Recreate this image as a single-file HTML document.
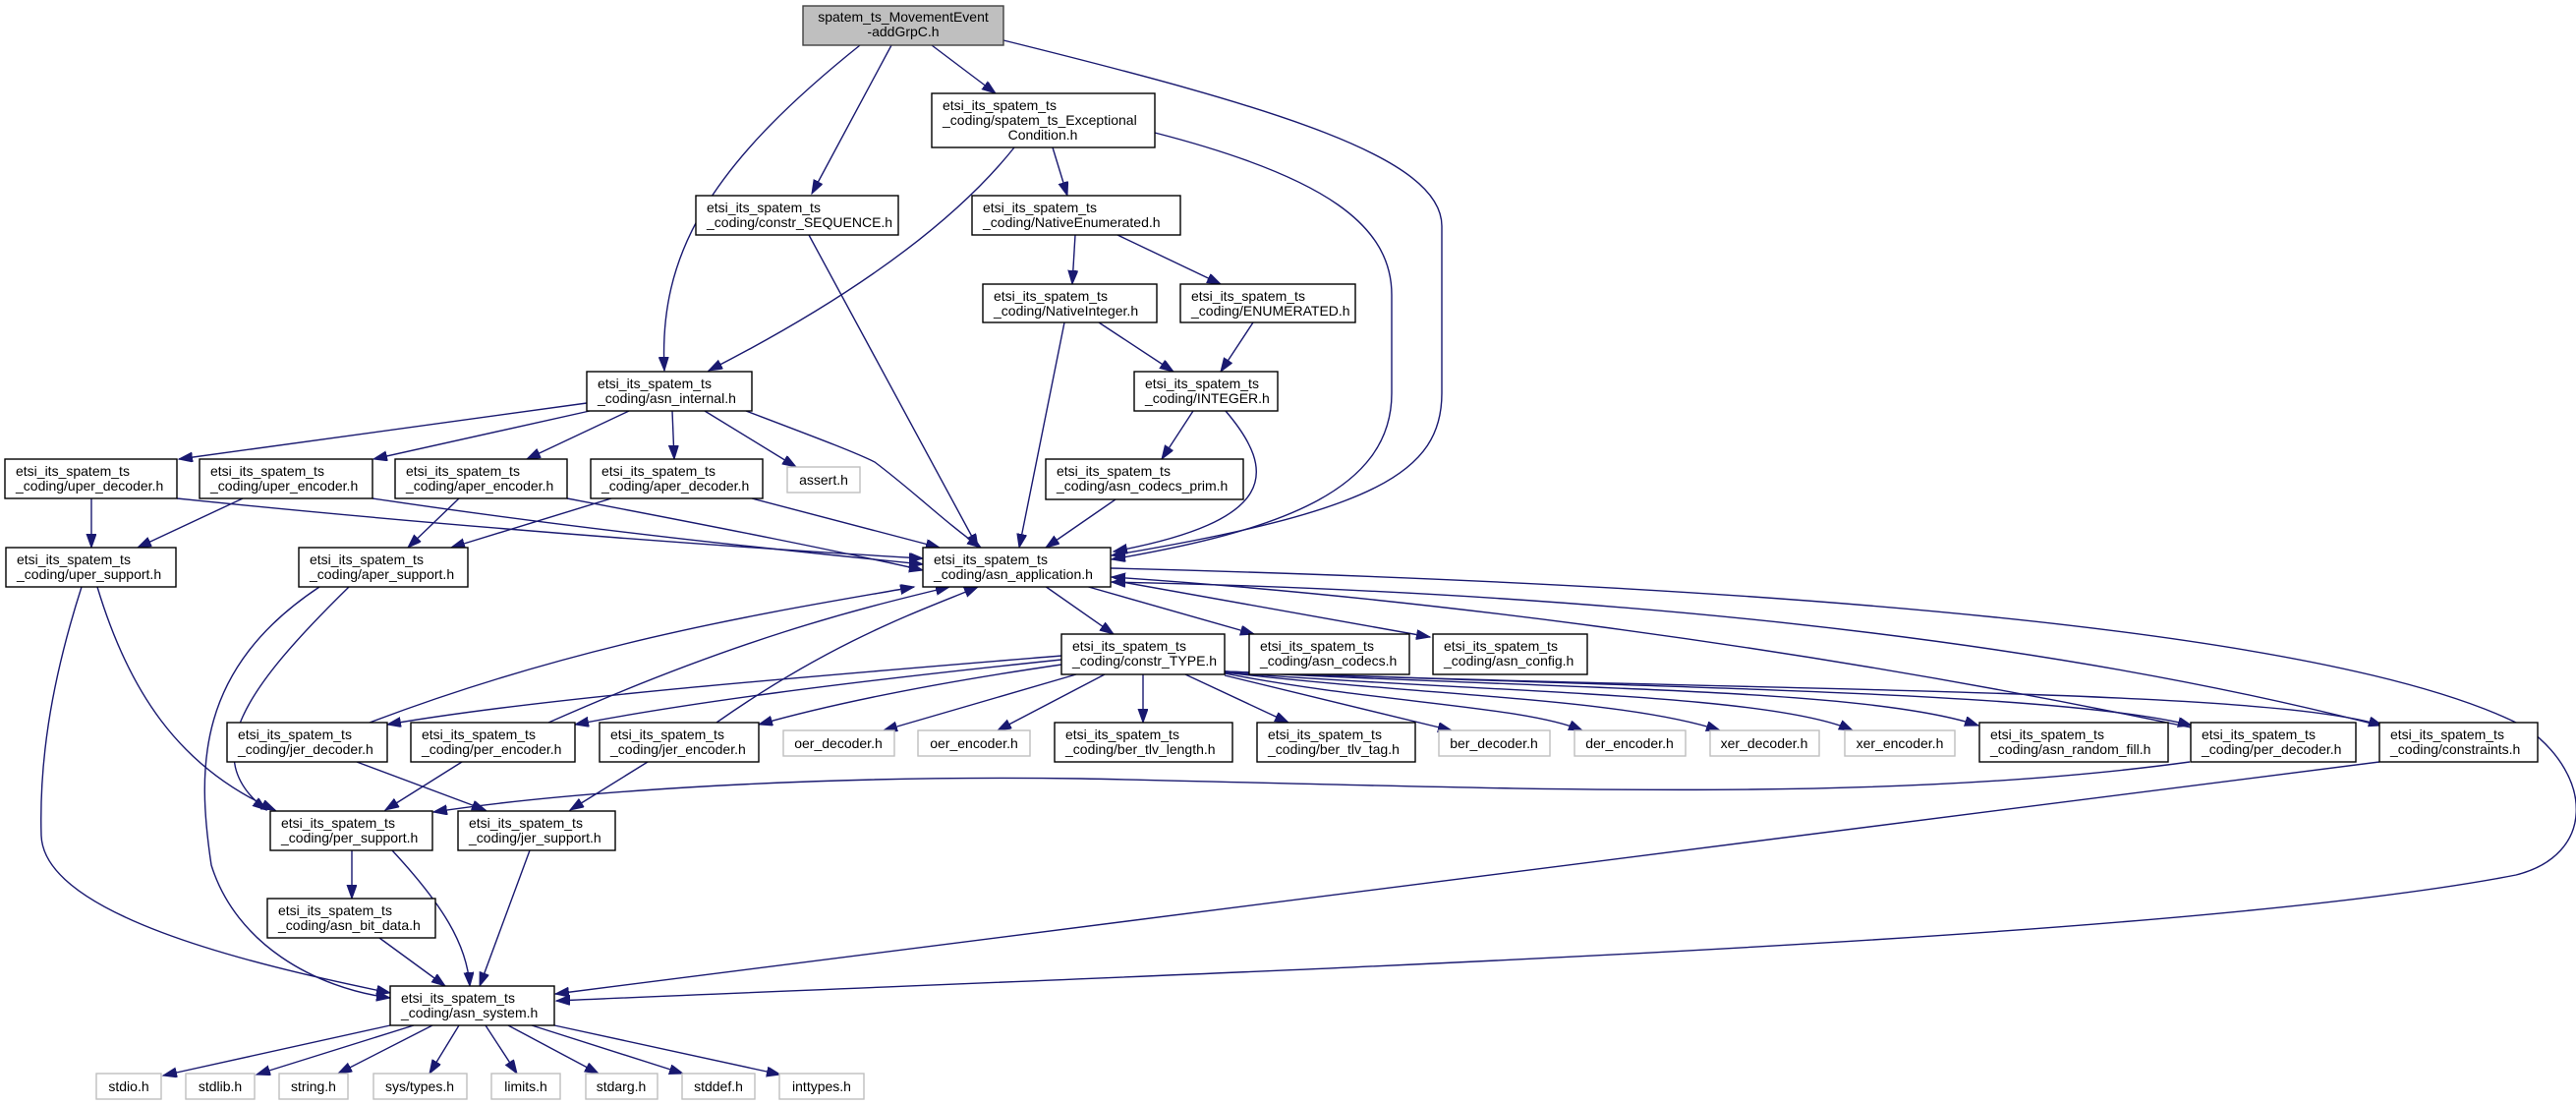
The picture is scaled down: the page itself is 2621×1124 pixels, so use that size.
<!DOCTYPE html>
<html><head><meta charset="utf-8"><style>
html,body{margin:0;padding:0;background:#fff;}
svg{display:block}
text{font-family:"Liberation Sans",sans-serif;font-size:14px;fill:#000}
.n{fill:#fff;stroke:#000;stroke-width:1.4}
.g{fill:#fff;stroke:#bfbfbf;stroke-width:1.4}
.e{fill:none;stroke:#191970;stroke-width:1.4;marker-end:url(#a)}
</style></head><body>
<svg width="2621" height="1124" viewBox="0 0 2621 1124" xmlns="http://www.w3.org/2000/svg">
<defs><marker id="a" markerUnits="userSpaceOnUse" markerWidth="16" markerHeight="12" refX="14" refY="5" orient="auto"><path d="M0,0 L14,5 L0,10 z" fill="#191970" stroke="#191970"/></marker></defs>
<!-- edges -->
<path class="e" d="M875,46 C720,170 670,260 676,377"/>
<path class="e" d="M907,46 L826,197"/>
<path class="e" d="M948,46 L1013,95"/>
<path class="e" d="M1021,41 C1300,110 1467,160 1467,230 L1467,400 C1467,480 1400,520 1131,565"/>
<path class="e" d="M1032,150 Q940,265 721,377"/>
<path class="e" d="M1071,150 L1086,199"/>
<path class="e" d="M1175,135 C1350,180 1416,230 1416,300 L1416,400 C1416,500 1300,540 1131,569"/>
<path class="e" d="M823,239 L995,557"/>
<path class="e" d="M1094,239 L1091,289"/>
<path class="e" d="M1137,239 L1242,289"/>
<path class="e" d="M1083,328 L1037,557"/>
<path class="e" d="M1118,328 L1194,378"/>
<path class="e" d="M1275,328 L1242,378"/>
<path class="e" d="M1214,418 L1182,467"/>
<path class="e" d="M1247,418 C1300,480 1300,530 1133,561"/>
<path class="e" d="M1135,508 L1064,557"/>
<path class="e" d="M597,410 L182,467"/>
<path class="e" d="M600,418 L380,467"/>
<path class="e" d="M640,418 L536,467"/>
<path class="e" d="M684,418 L686,467"/>
<path class="e" d="M717,418 L810,475"/>
<path class="e" d="M759,418 C830,445 870,460 890,470 C930,500 960,530 998,557"/>
<path class="e" d="M93,507 L93,557"/>
<path class="e" d="M180,507 C500,540 800,560 939,568"/>
<path class="e" d="M247,507 L140,557"/>
<path class="e" d="M379,507 C600,540 800,560 939,574"/>
<path class="e" d="M467,507 L415,557"/>
<path class="e" d="M577,507 C750,540 850,560 939,580"/>
<path class="e" d="M622,507 L459,557"/>
<path class="e" d="M765,507 L956,557"/>
<path class="e" d="M83,597 C50,700 40,780 42,850 C45,930 250,980 397,1010"/>
<path class="e" d="M99,597 C130,700 180,780 280,824"/>
<path class="e" d="M325,597 C200,680 200,780 215,880 C240,960 320,1005 397,1015"/>
<path class="e" d="M355,597 C250,700 200,770 271,824"/>
<path class="e" d="M376,735 C600,650 800,620 930,597"/>
<path class="e" d="M363,775 L494,824"/>
<path class="e" d="M558,735 C750,650 870,620 966,597"/>
<path class="e" d="M470,775 L392,824"/>
<path class="e" d="M729,735 C850,650 940,620 995,597"/>
<path class="e" d="M659,775 L580,824"/>
<path class="e" d="M358,865 L358,914"/>
<path class="e" d="M399,865 C450,920 475,960 478,1003"/>
<path class="e" d="M539,865 L488,1003"/>
<path class="e" d="M386,954 L453,1003"/>
<path class="e" d="M397,1043 L166,1094"/>
<path class="e" d="M421,1043 L261,1093"/>
<path class="e" d="M440,1043 L344,1092"/>
<path class="e" d="M467,1043 L437,1092"/>
<path class="e" d="M494,1043 L526,1092"/>
<path class="e" d="M517,1043 L609,1092"/>
<path class="e" d="M541,1043 L695,1092"/>
<path class="e" d="M564,1043 L794,1093"/>
<path class="e" d="M1063,596 L1133,645"/>
<path class="e" d="M1104,596 L1276,645"/>
<path class="e" d="M1136,591 L1455,648"/>
<path class="e" d="M1163,686 L1163,735"/>
<path class="e" d="M1206,686 L1311,735"/>
<path class="e" d="M1246,687 L1477,743"/>
<path class="e" d="M1246,685 C1400,715 1550,718 1610,743"/>
<path class="e" d="M1246,684 C1450,708 1650,710 1750,743"/>
<path class="e" d="M1246,684 C1500,704 1800,705 1885,743"/>
<path class="e" d="M1246,683 C1600,702 1900,700 2013,738"/>
<path class="e" d="M1246,683 C1700,700 2100,704 2230,738"/>
<path class="e" d="M1246,683 C1800,704 2300,700 2424,738"/>
<path class="e" d="M1080,667 C800,690 550,710 394,737"/>
<path class="e" d="M1080,671 C850,695 700,715 585,737"/>
<path class="e" d="M1080,676 C950,695 850,715 772,737"/>
<path class="e" d="M1095,686 L899,743"/>
<path class="e" d="M1124,686 L1015,743"/>
<path class="e" d="M2229,740 C1800,650 1400,605 1131,587"/>
<path class="e" d="M2421,738 C2000,630 1500,600 1131,592"/>
<path class="e" d="M2228,775 C1900,820 1500,800 1100,792 C800,788 560,808 441,826"/>
<path class="e" d="M2421,775 L565,1011"/>
<path class="e" d="M1130,578 C1800,595 2380,640 2570,740 C2640,790 2640,870 2560,890 C2200,960 1200,990 566,1018"/>
<!-- nodes -->
<rect x="817" y="6" width="204" height="40" fill="#bfbfbf" stroke="#404040" stroke-width="1.4"/>
<text x="919" y="22" text-anchor="middle">spatem_ts_MovementEvent</text><text x="919" y="37" text-anchor="middle">-addGrpC.h</text>
<rect class="n" x="948" y="95" width="227" height="55"/>
<text x="959" y="112">etsi_its_spatem_ts</text><text x="959" y="127">_coding/spatem_ts_Exceptional</text><text x="1061" y="142" text-anchor="middle">Condition.h</text>
<g id="nodes">
<rect class="n" x="708" y="199" width="206" height="40"/><text x="719" y="216">etsi_its_spatem_ts</text><text x="719" y="231">_coding/constr_SEQUENCE.h</text>
<rect class="n" x="989" y="199" width="212" height="40"/><text x="1000" y="216">etsi_its_spatem_ts</text><text x="1000" y="231">_coding/NativeEnumerated.h</text>
<rect class="n" x="1000" y="289" width="177" height="39"/><text x="1011" y="306">etsi_its_spatem_ts</text><text x="1011" y="321">_coding/NativeInteger.h</text>
<rect class="n" x="1201" y="289" width="178" height="39"/><text x="1212" y="306">etsi_its_spatem_ts</text><text x="1212" y="321">_coding/ENUMERATED.h</text>
<rect class="n" x="597" y="378" width="168" height="40"/><text x="608" y="395">etsi_its_spatem_ts</text><text x="608" y="410">_coding/asn_internal.h</text>
<rect class="n" x="1154" y="378" width="146" height="40"/><text x="1165" y="395">etsi_its_spatem_ts</text><text x="1165" y="410">_coding/INTEGER.h</text>
<rect class="n" x="5" y="467" width="175" height="40"/><text x="16" y="484">etsi_its_spatem_ts</text><text x="16" y="499">_coding/uper_decoder.h</text>
<rect class="n" x="203" y="467" width="176" height="40"/><text x="214" y="484">etsi_its_spatem_ts</text><text x="214" y="499">_coding/uper_encoder.h</text>
<rect class="n" x="402" y="467" width="175" height="40"/><text x="413" y="484">etsi_its_spatem_ts</text><text x="413" y="499">_coding/aper_encoder.h</text>
<rect class="n" x="601" y="467" width="175" height="40"/><text x="612" y="484">etsi_its_spatem_ts</text><text x="612" y="499">_coding/aper_decoder.h</text>
<rect class="n" x="1064" y="467" width="201" height="41"/><text x="1075" y="484">etsi_its_spatem_ts</text><text x="1075" y="499">_coding/asn_codecs_prim.h</text>
<rect class="n" x="6" y="557" width="173" height="40"/><text x="17" y="574">etsi_its_spatem_ts</text><text x="17" y="589">_coding/uper_support.h</text>
<rect class="n" x="304" y="557" width="172" height="40"/><text x="315" y="574">etsi_its_spatem_ts</text><text x="315" y="589">_coding/aper_support.h</text>
<rect class="n" x="939" y="557" width="191" height="40"/><text x="950" y="574">etsi_its_spatem_ts</text><text x="950" y="589">_coding/asn_application.h</text>
<rect class="n" x="1080" y="645" width="166" height="41"/><text x="1091" y="662">etsi_its_spatem_ts</text><text x="1091" y="677">_coding/constr_TYPE.h</text>
<rect class="n" x="1271" y="645" width="163" height="41"/><text x="1282" y="662">etsi_its_spatem_ts</text><text x="1282" y="677">_coding/asn_codecs.h</text>
<rect class="n" x="1458" y="645" width="157" height="41"/><text x="1469" y="662">etsi_its_spatem_ts</text><text x="1469" y="677">_coding/asn_config.h</text>
<rect class="n" x="231" y="735" width="163" height="40"/><text x="242" y="752">etsi_its_spatem_ts</text><text x="242" y="767">_coding/jer_decoder.h</text>
<rect class="n" x="418" y="735" width="167" height="40"/><text x="429" y="752">etsi_its_spatem_ts</text><text x="429" y="767">_coding/per_encoder.h</text>
<rect class="n" x="610" y="735" width="162" height="40"/><text x="621" y="752">etsi_its_spatem_ts</text><text x="621" y="767">_coding/jer_encoder.h</text>
<rect class="n" x="1073" y="735" width="181" height="40"/><text x="1084" y="752">etsi_its_spatem_ts</text><text x="1084" y="767">_coding/ber_tlv_length.h</text>
<rect class="n" x="1279" y="735" width="161" height="40"/><text x="1290" y="752">etsi_its_spatem_ts</text><text x="1290" y="767">_coding/ber_tlv_tag.h</text>
<rect class="n" x="2014" y="735" width="192" height="40"/><text x="2025" y="752">etsi_its_spatem_ts</text><text x="2025" y="767">_coding/asn_random_fill.h</text>
<rect class="n" x="2229" y="735" width="168" height="40"/><text x="2240" y="752">etsi_its_spatem_ts</text><text x="2240" y="767">_coding/per_decoder.h</text>
<rect class="n" x="2421" y="735" width="161" height="40"/><text x="2432" y="752">etsi_its_spatem_ts</text><text x="2432" y="767">_coding/constraints.h</text>
<rect class="n" x="275" y="825" width="165" height="40"/><text x="286" y="842">etsi_its_spatem_ts</text><text x="286" y="857">_coding/per_support.h</text>
<rect class="n" x="466" y="825" width="160" height="40"/><text x="477" y="842">etsi_its_spatem_ts</text><text x="477" y="857">_coding/jer_support.h</text>
<rect class="n" x="272" y="914" width="171" height="40"/><text x="283" y="931">etsi_its_spatem_ts</text><text x="283" y="946">_coding/asn_bit_data.h</text>
<rect class="n" x="397" y="1003" width="167" height="40"/><text x="408" y="1020">etsi_its_spatem_ts</text><text x="408" y="1035">_coding/asn_system.h</text>
</g>
<g text-anchor="middle">
<rect class="g" x="801" y="475" width="74" height="26"/><text x="838" y="493">assert.h</text>
<rect class="g" x="797" y="743" width="113" height="26"/><text x="853" y="761">oer_decoder.h</text>
<rect class="g" x="934" y="743" width="114" height="26"/><text x="991" y="761">oer_encoder.h</text>
<rect class="g" x="1464" y="743" width="113" height="26"/><text x="1520" y="761">ber_decoder.h</text>
<rect class="g" x="1602" y="743" width="113" height="26"/><text x="1658" y="761">der_encoder.h</text>
<rect class="g" x="1740" y="743" width="111" height="26"/><text x="1795" y="761">xer_decoder.h</text>
<rect class="g" x="1877" y="743" width="112" height="26"/><text x="1933" y="761">xer_encoder.h</text>
<rect class="g" x="98" y="1092" width="66" height="26"/><text x="131" y="1110">stdio.h</text>
<rect class="g" x="189" y="1092" width="70" height="26"/><text x="224" y="1110">stdlib.h</text>
<rect class="g" x="284" y="1092" width="70" height="26"/><text x="319" y="1110">string.h</text>
<rect class="g" x="380" y="1092" width="95" height="26"/><text x="427" y="1110">sys/types.h</text>
<rect class="g" x="500" y="1092" width="70" height="26"/><text x="535" y="1110">limits.h</text>
<rect class="g" x="596" y="1092" width="73" height="26"/><text x="632" y="1110">stdarg.h</text>
<rect class="g" x="694" y="1092" width="74" height="26"/><text x="731" y="1110">stddef.h</text>
<rect class="g" x="793" y="1092" width="86" height="26"/><text x="836" y="1110">inttypes.h</text>
</g>
</svg>
</body></html>
